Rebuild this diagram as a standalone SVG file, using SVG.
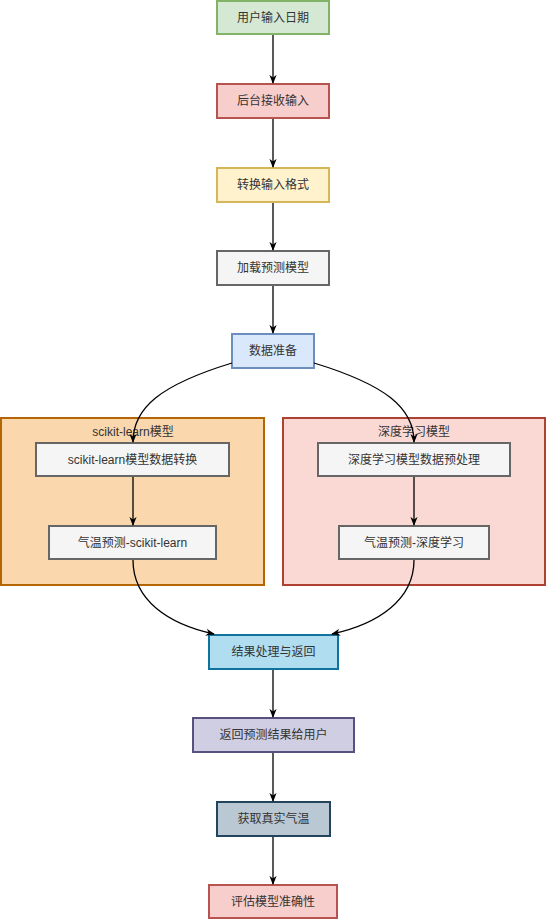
<svg xmlns="http://www.w3.org/2000/svg" width="546" height="919" viewBox="0 0 546 919">
<style>
text{font-family:"Liberation Sans","Noto Sans CJK SC",sans-serif;font-size:12px;fill:#333333;text-anchor:middle;dominant-baseline:central}
.n rect{stroke-width:2}
.e{fill:none;stroke:#000;stroke-width:1.3;marker-end:url(#ah)}
</style>
<defs>
<marker id="ah" viewBox="0 0 10 10" refX="9" refY="5" markerWidth="9" markerHeight="9" markerUnits="userSpaceOnUse" orient="auto">
<path d="M0,1 L10,5 L0,9 L3,5 Z" fill="#000"/>
</marker>
</defs>
<rect width="546" height="919" fill="#ffffff"/>
<g id="group-sklearn" class="n"><rect x="1" y="418" width="263" height="167" fill="#fad7ac" stroke="#b46504"/><text x="133" y="432">scikit-learn模型</text></g>
<g id="group-dl" class="n"><rect x="283" y="418" width="262" height="167" fill="#fad9d5" stroke="#ae4132"/><text x="414" y="432">深度学习模型</text></g>
<g id="n1" class="n"><rect x="217" y="1" width="112" height="33" fill="#d5e8d4" stroke="#82b366"/><text x="273" y="17.5">用户输入日期</text></g>
<g id="n2" class="n"><rect x="217" y="84" width="112" height="34" fill="#f8cecc" stroke="#b85450"/><text x="273" y="101">后台接收输入</text></g>
<g id="n3" class="n"><rect x="217" y="168" width="112" height="34" fill="#fff2cc" stroke="#d6b656"/><text x="273" y="185">转换输入格式</text></g>
<g id="n4" class="n"><rect x="217" y="251" width="112" height="34" fill="#f5f5f5" stroke="#666666"/><text x="273" y="268">加载预测模型</text></g>
<g id="n5" class="n"><rect x="232" y="334" width="82" height="34" fill="#dae8fc" stroke="#6c8ebf"/><text x="273" y="351">数据准备</text></g>
<g id="l1" class="n"><rect x="36" y="443" width="193" height="33" fill="#f5f5f5" stroke="#666666"/><text x="132.5" y="459.5">scikit-learn模型数据转换</text></g>
<g id="l2" class="n"><rect x="49" y="526" width="167" height="33" fill="#f5f5f5" stroke="#666666"/><text x="132.5" y="542.5">气温预测-scikit-learn</text></g>
<g id="r1" class="n"><rect x="318" y="443" width="192" height="33" fill="#f5f5f5" stroke="#666666"/><text x="414" y="459.5">深度学习模型数据预处理</text></g>
<g id="r2" class="n"><rect x="339" y="526" width="150" height="33" fill="#f5f5f5" stroke="#666666"/><text x="414" y="542.5">气温预测-深度学习</text></g>
<g id="n6" class="n"><rect x="209" y="635" width="129" height="34" fill="#b1ddf0" stroke="#10739e"/><text x="273.5" y="652">结果处理与返回</text></g>
<g id="n7" class="n"><rect x="193" y="718" width="161" height="34" fill="#d0cee2" stroke="#56517e"/><text x="273.5" y="735">返回预测结果给用户</text></g>
<g id="n8" class="n"><rect x="217" y="802" width="113" height="34" fill="#bac8d3" stroke="#23445d"/><text x="273.5" y="819">获取真实气温</text></g>
<g id="n9" class="n"><rect x="209" y="885" width="128" height="33" fill="#f8cecc" stroke="#b85450"/><text x="273" y="901.5">评估模型准确性</text></g>
<g id="connectors">
<path class="e" d="M273,35 L273,83"/>
<path class="e" d="M273,119 L273,167"/>
<path class="e" d="M273,203 L273,250"/>
<path class="e" d="M273,286 L273,333"/>
<path class="e" d="M232,363 C160,385 133,408 133,442"/>
<path class="e" d="M314,363 C386,385 414,408 414,442"/>
<path class="e" d="M133,477 L133,525"/>
<path class="e" d="M414,477 L414,525"/>
<path class="e" d="M133,560 C133,600 168,624 214,634"/>
<path class="e" d="M414,560 C414,600 378,624 332,634"/>
<path class="e" d="M273,670 L273,717"/>
<path class="e" d="M273,753 L273,801"/>
<path class="e" d="M273,837 L273,884"/>
</g>
</svg>
